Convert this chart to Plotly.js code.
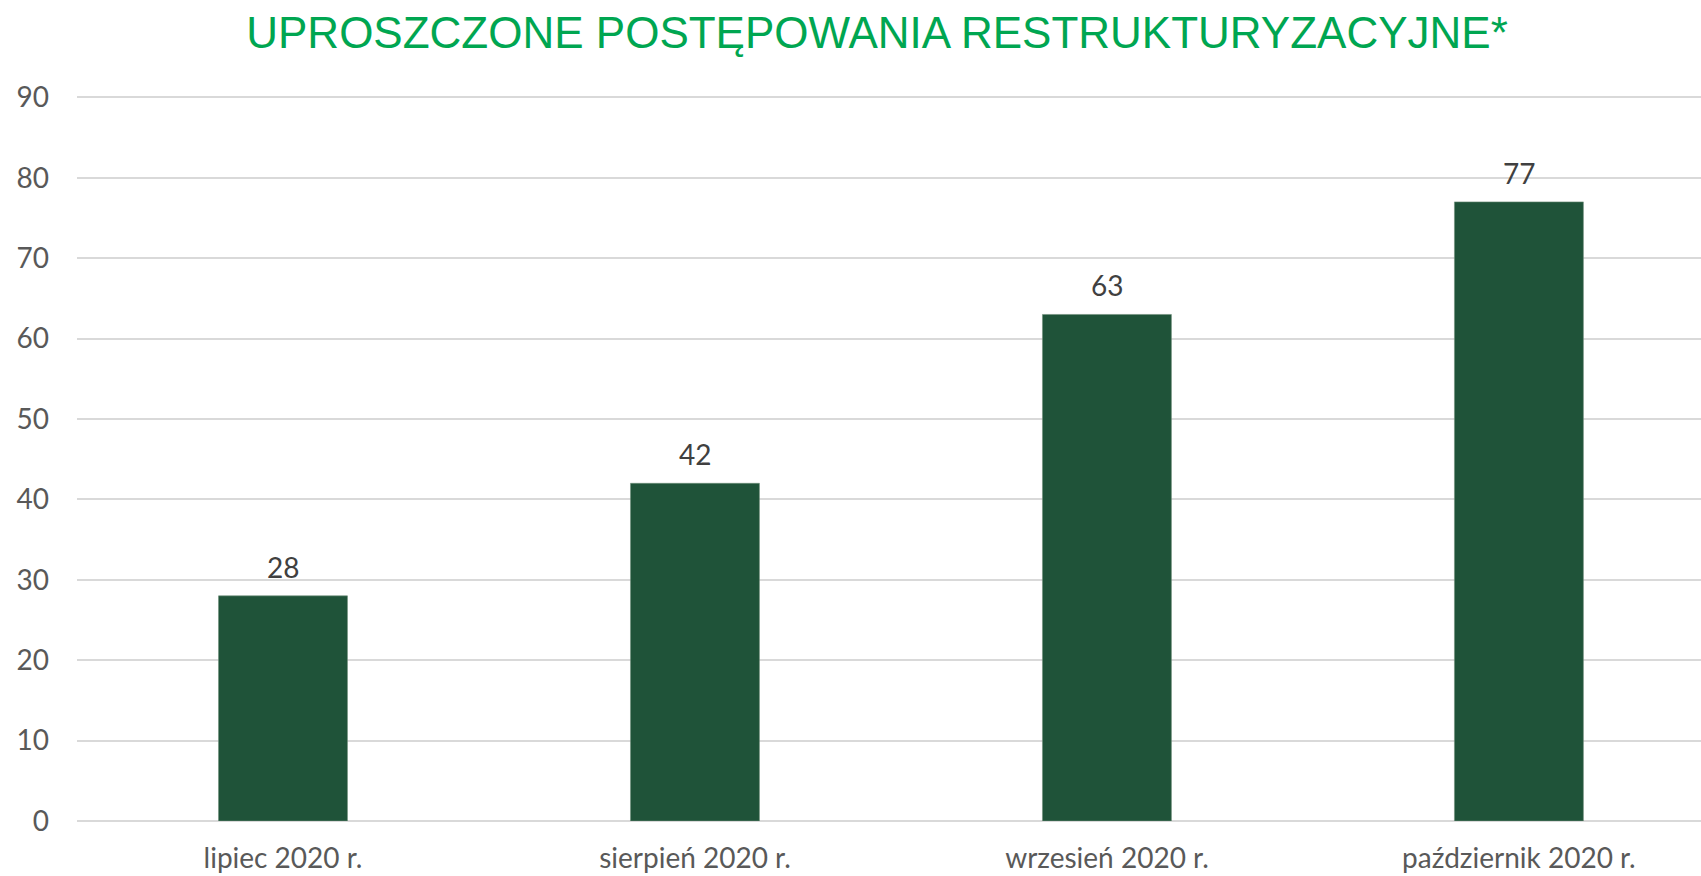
<!DOCTYPE html>
<html>
<head>
<meta charset="utf-8">
<script src="https://cdn.plot.ly/plotly-3.0.1.min.js"></script>
<style>
  html, body { margin: 0; padding: 0; background: #ffffff; }
  #chart { width: 1701px; height: 876px; }
</style>
</head>
<body>
<div id="chart"></div>
<script>
const categories = ["lipiec 2020 r.", "sierpień 2020 r.", "wrzesień 2020 r.", "październik 2020 r."];
const values = [28, 42, 63, 77];
const yTicks = [0, 10, 20, 30, 40, 50, 60, 70, 80, 90];
const chartTitle = "UPROSZCZONE POSTĘPOWANIA RESTRUKTURYZACYJNE*";

const labelFont = { family: "Lato, 'Open Sans', sans-serif", size: 28, color: "#595959" };

const trace = {
  type: "bar",
  x: categories,
  y: values,
  marker: { color: "#1F5339", line: { color: "#6E8F7B", width: 0.6 } },
  hoverinfo: "x+y",
  cliponaxis: false
};

const annotations = categories.map((c, i) => ({
  x: c,
  y: values[i],
  xref: "x",
  yref: "y",
  text: String(values[i]),
  showarrow: false,
  yanchor: "bottom",
  yshift: 10,
  font: { family: labelFont.family, size: 28, color: "#404040" }
}));

const layout = {
  width: 1701,
  height: 876,
  paper_bgcolor: "#ffffff",
  plot_bgcolor: "#ffffff",
  margin: { l: 77, r: 0, t: 96, b: 55 },
  showlegend: false,
  bargap: 0.687,
  title: {
    text: chartTitle,
    font: { family: "'Liberation Sans', Arial, sans-serif", size: 44, color: "#00A651" },
    xref: "container",
    x: 877 / 1701,
    xanchor: "center",
    yref: "container",
    y: 1 - 33 / 876,
    yanchor: "middle"
  },
  xaxis: {
    type: "category",
    range: [-0.5, 3.442],
    showgrid: false,
    zeroline: false,
    showline: false,
    ticks: "",
    tickfont: labelFont,
    ticklabelstandoff: 18,
    fixedrange: true
  },
  yaxis: {
    range: [0, 90.17],
    tickvals: yTicks,
    ticktext: yTicks.map(String),
    showgrid: true,
    gridcolor: "#D9D9D9",
    gridwidth: 1.6,
    zeroline: true,
    zerolinecolor: "#D9D9D9",
    zerolinewidth: 1.6,
    showline: false,
    ticks: "",
    tickfont: labelFont,
    ticklabelstandoff: 27,
    fixedrange: true
  },
  annotations: annotations
};

Plotly.newPlot("chart", [trace], layout, { displayModeBar: false, staticPlot: false });
</script>
</body>
</html>
